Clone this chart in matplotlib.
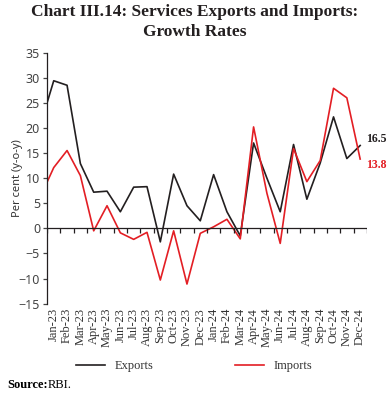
import numpy as np
import matplotlib.pyplot as plt

# months; the first entry (Dec-22) only feeds the clipped segment at the left edge
months = ["Dec-22",
          "Jan-23", "Feb-23", "Mar-23", "Apr-23", "May-23", "Jun-23",
          "Jul-23", "Aug-23", "Sep-23", "Oct-23", "Nov-23", "Dec-23",
          "Jan-24", "Feb-24", "Mar-24", "Apr-24", "May-24", "Jun-24",
          "Jul-24", "Aug-24", "Sep-24", "Oct-24", "Nov-24", "Dec-24"]
exports = [20.6,
           29.4, 28.5, 12.9, 7.2, 7.4, 3.3, 8.2, 8.3, -2.7, 10.8, 4.5, 1.5,
           10.7, 3.3, -1.5, 17.0, 10.0, 3.3, 16.7, 5.8, 13.0, 22.2, 13.9, 16.5]
imports = [6.3,
           12.1, 15.5, 10.5, -0.5, 4.5, -0.9, -2.2, -0.8, -10.3, -0.5, -11.1, -1.0,
           0.3, 1.8, -2.1, 20.2, 7.0, -3.0, 15.9, 9.3, 13.5, 27.9, 26.0, 13.8]

black = "#231f20"
red = "#e31e24"
serif = "Liberation Serif"

x = np.arange(len(months)) - 1  # Jan-23 at 0

fig = plt.figure(figsize=(3.89, 3.94), dpi=100)
ax = fig.add_axes([0.121, 0.2294, 0.822, 0.637])

ax.plot(x, exports, color=black, lw=1.2, label="Exports")
ax.plot(x, imports, color=red, lw=1.2, label="Imports")

ax.set_xlim(-0.5, len(months) - 1.5)
ax.set_ylim(-15, 35)
ax.set_yticks(np.arange(-15, 36, 5))

# zero line with ticks between months
ax.axhline(0, color=black, lw=0.9)
ax.vlines(np.arange(-0.5, len(months) - 1), -0.9, 0, color=black, lw=0.9)

ax.set_xticks(x[1:])
ax.set_xticklabels(months[1:], rotation=90, fontsize=9, family=serif, color="#333333")
ax.tick_params(axis="x", length=0, pad=3)
ax.tick_params(axis="y", length=3, width=0.9, labelsize=9, colors="#444444", pad=2)
for lab in ax.get_yticklabels():
    lab.set_family("Noto Sans")
for s in ["top", "right", "bottom"]:
    ax.spines[s].set_visible(False)
ax.spines["left"].set_color(black)
ax.spines["left"].set_linewidth(0.9)

ax.set_ylabel("Per cent (y-o-y)", fontsize=8, family="Noto Sans", color="#333333")
ax.yaxis.set_label_coords(-0.075, 0.5)

ax.annotate(f"{exports[-1]}", (x[-1], exports[-1]), xytext=(4, 5), textcoords="offset points",
            fontsize=8.5, fontweight="bold", family=serif, color=black, va="center")
ax.annotate(f"{imports[-1]}", (x[-1], imports[-1]), xytext=(4, -4), textcoords="offset points",
            fontsize=8.5, fontweight="bold", family=serif, color=red, va="center")

fig.text(0.5, 0.99, "Chart III.14: Services Exports and Imports:\nGrowth Rates",
         ha="center", va="top", fontsize=12.5, fontweight="bold", family=serif,
         color="#231f20", linespacing=1.3)

fig.legend(loc="center", bbox_to_anchor=(0.5, 0.071), ncol=2, frameon=False,
           prop={"family": serif, "size": 9}, handlelength=2.3, columnspacing=6.5,
           labelcolor="#333333")

fig.text(0.02, 0.022, "Source:", fontsize=9, fontweight="bold", family=serif, va="center")
fig.text(0.123, 0.022, "RBI.", fontsize=9, family=serif, va="center")

fig.savefig("out.png", dpi=100)
